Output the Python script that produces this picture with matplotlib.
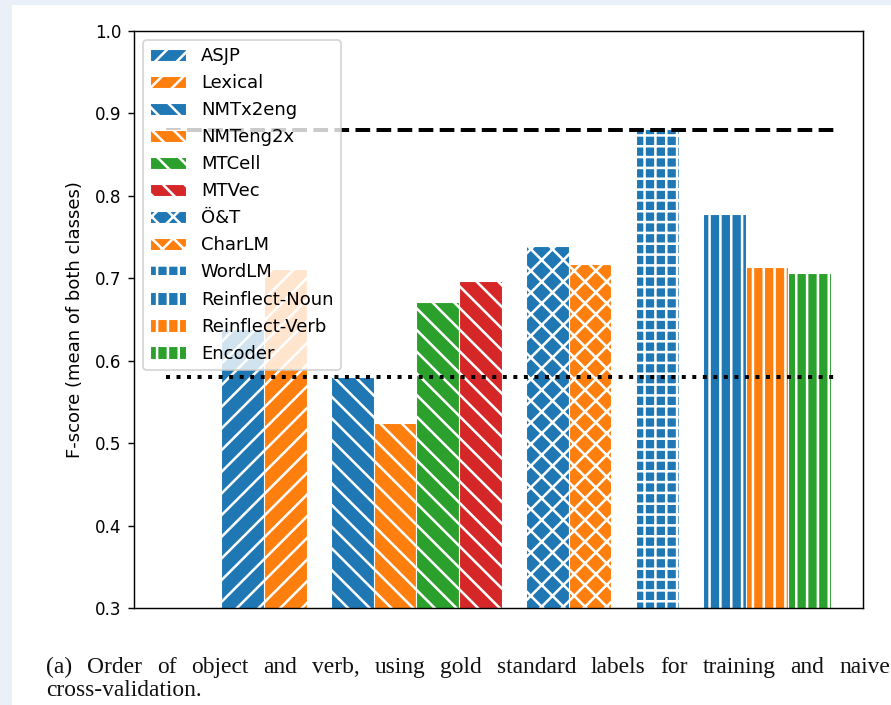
import matplotlib
matplotlib.use("Agg")
import matplotlib.pyplot as plt
from matplotlib.patches import Rectangle

# scores per system, in plotting order
systems = ["ASJP", "Lexical", "NMTx2eng", "NMTeng2x", "MTCell", "MTVec",
           "Ö&T", "CharLM", "WordLM", "Reinflect-Noun", "Reinflect-Verb", "Encoder"]
scores = [0.638, 0.711, 0.580, 0.525, 0.671, 0.697,
          0.739, 0.717, 0.881, 0.778, 0.714, 0.706]
group_sizes = [2, 4, 2, 1, 3]
bar_colors = ["#1f77b4", "#ff7f0e", "#1f77b4", "#ff7f0e", "#2ca02c", "#d62728",
              "#1f77b4", "#ff7f0e", "#1f77b4", "#1f77b4", "#ff7f0e", "#2ca02c"]
bar_hatches = ["//", "//", "\\\\", "\\\\", "\\\\", "\\\\", "xx", "xx", "++", "||", "||", "||"]
baselines = [0.58, 0.88]

plt.rcParams["hatch.linewidth"] = 1.4

DPI = 130
W, H = 891, 705
fig = plt.figure(figsize=(W / DPI, H / DPI), dpi=DPI, facecolor="#e9f0f8")
fig.patches.append(Rectangle((12 / W, 0), 1, 1 - 5 / H, transform=fig.transFigure,
                             facecolor="white", edgecolor="none", zorder=-10))

ax = fig.add_axes([134 / W, 1 - 608 / H, (863 - 134) / W, (608 - 31) / H])

# left edges: bars touch inside a group, small gap between groups
gap = 0.57
lefts = []
pos = 0.0
for n in group_sizes:
    for _ in range(n):
        lefts.append(pos)
        pos += 1
    pos += gap

for x, y, c, h, name in zip(lefts, scores, bar_colors, bar_hatches, systems):
    ax.bar(x, y - 0.3, bottom=0.3, width=1, align="edge", color=c,
           edgecolor="white", linewidth=0.6, hatch=h, label=name)

ax.axhline(baselines[0], xmin=0.044, xmax=0.966, color="black", ls=":", lw=2.2)
ax.axhline(baselines[1], xmin=0.044, xmax=0.966, color="black", ls="--", lw=2.2)

ax.set_xlim(-2.04, 15.03)
ax.set_ylim(0.3, 1.0)
ax.set_xticks([])
ax.set_yticks([0.3, 0.4, 0.5, 0.6, 0.7, 0.8, 0.9, 1.0])
ax.set_yticklabels([f"{v:.1f}" for v in [0.3, 0.4, 0.5, 0.6, 0.7, 0.8, 0.9, 1.0]])
ax.tick_params(axis="y", labelsize=9.3)
ax.set_ylabel("F-score (mean of both classes)", fontsize=10, labelpad=6)
ax.legend(loc="upper left", fontsize=10)

# caption, first line justified
fig.canvas.draw()
r = fig.canvas.get_renderer()
line1 = "(a) Order of object and verb, using gold standard labels for training and naive"
words = line1.split()
cap_kw = dict(family="Liberation Serif", fontsize=13, color="#111111")
texts = [fig.text(0, 1 - 673 / H, w, **cap_kw) for w in words]
widths = [t.get_window_extent(r).width for t in texts]
x0, x1 = 46, 890
space = (x1 - x0 - sum(widths)) / (len(words) - 1)
x = x0
for t, w in zip(texts, widths):
    t.set_x(x / W)
    x += w + space
fig.text(x0 / W, 1 - 696 / H, "cross-validation.", **cap_kw)

fig.savefig("out.png", dpi=DPI, facecolor=fig.get_facecolor())
